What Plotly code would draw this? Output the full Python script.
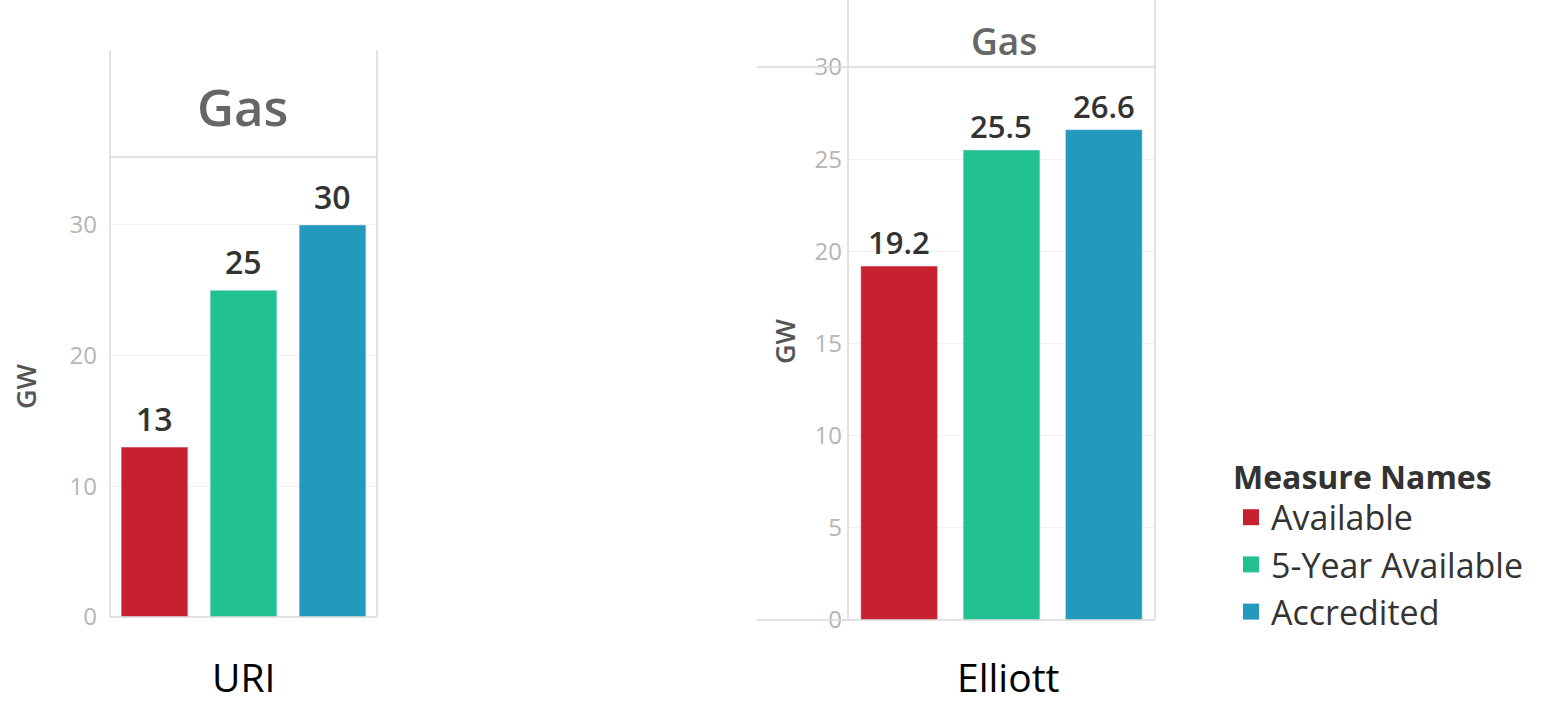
import plotly.graph_objects as go

# Data
measures = ["Available", "5-Year Available", "Accredited"]
uri_gw = [13, 25, 30]
elliott_gw = [19.2, 25.5, 26.6]
uri_labels = ["13", "25", "30"]
elliott_labels = ["19.2", "25.5", "26.6"]
uri_ticks = [0, 10, 20, 30]
elliott_ticks = [0, 5, 10, 15, 20, 25, 30]

COLORS = ["#C7202F", "#21C192", "#2399BC"]
W, H = 1554, 706
FONT = "Open Sans"


def px_x(x):
    return x / W


def px_y(y):
    return 1 - y / H


fig = go.Figure()

for i, m in enumerate(measures):
    fig.add_trace(
        go.Bar(
            x=[m], y=[uri_gw[i]], name=m, marker_color=COLORS[i],
            legendgroup=m, showlegend=False, xaxis="x", yaxis="y",
        )
    )
    fig.add_trace(
        go.Bar(
            x=[m], y=[elliott_gw[i]], name=m, marker_color=COLORS[i],
            legendgroup=m, showlegend=False, xaxis="x2", yaxis="y2",
        )
    )
    # legend entry with a bigger square swatch
    fig.add_trace(
        go.Scatter(
            x=[None], y=[None], name=m, mode="markers", legendgroup=m,
            marker=dict(symbol="square", size=18, color=COLORS[i]),
            xaxis="x2", yaxis="y2", hoverinfo="skip",
        )
    )

annotations = []
# value labels above bars
for i, m in enumerate(measures):
    annotations.append(dict(
        x=m, y=uri_gw[i], xref="x", yref="y", text=uri_labels[i],
        showarrow=False, xanchor="center", yanchor="bottom", yshift=5,
        font=dict(family=FONT, size=32, color="#333333", weight=600),
    ))
    annotations.append(dict(
        x=m, y=elliott_gw[i], xref="x2", yref="y2", text=elliott_labels[i],
        showarrow=False, xanchor="center", yanchor="bottom", yshift=1,
        font=dict(family=FONT, size=31, color="#333333", weight=600),
    ))


def label(x, y, text, size, color, weight=400, angle=0, yanchor="middle"):
    return dict(
        x=px_x(x), y=px_y(y), xref="paper", yref="paper", text=text,
        showarrow=False, xanchor="center", yanchor=yanchor, textangle=angle,
        font=dict(family=FONT, size=size, color=color, weight=weight),
    )


# header titles, axis titles, panel captions
annotations += [
    label(242, 106, "Gas", 51, "#666666", 600),
    label(1004, 41, "Gas", 37, "#666666", 600),
    label(25, 386, "GW", 27, "#555555", 600, -90),
    label(785, 341, "GW", 27, "#555555", 600, -90),
    label(243, 705, "URI", 39, "#000000", yanchor="bottom"),
    label(1008, 705, "Elliott", 39, "#000000", yanchor="bottom"),
]

line_style = dict(color="#d9d9d9", width=1.5)


def hline(x0, x1, y):
    return dict(type="line", xref="paper", yref="paper", x0=px_x(x0), x1=px_x(x1),
                y0=px_y(y), y1=px_y(y), line=line_style)


def vline(x, y0, y1):
    return dict(type="line", xref="paper", yref="paper", x0=px_x(x), x1=px_x(x),
                y0=px_y(y0), y1=px_y(y1), line=line_style)


shapes = [
    # URI panel frame
    vline(110, 50, 617), vline(377, 50, 617),
    hline(110, 377, 157), hline(110, 377, 617),
    # Elliott panel frame
    vline(848, 0, 620), vline(1155, 0, 620),
    hline(757, 1155, 67), hline(757, 1155, 620),
]

tick_font = dict(family=FONT, size=24, color="#b5b5b5")

fig.update_layout(
    width=W,
    height=H,
    margin=dict(l=0, r=0, t=0, b=0, pad=0, autoexpand=False),
    paper_bgcolor="white",
    plot_bgcolor="white",
    barmode="relative",
    bargap=0.25,
    showlegend=True,
    annotations=annotations,
    shapes=shapes,
    xaxis=dict(
        domain=[px_x(110), px_x(377)], anchor="y", categoryorder="array",
        categoryarray=measures, showticklabels=False, showgrid=False,
        zeroline=False, automargin=False,
    ),
    yaxis=dict(
        domain=[px_y(617), px_y(157)], anchor="x", range=[0, 35.2],
        tickvals=uri_ticks, ticktext=[str(t) for t in uri_ticks], tickfont=tick_font,
        showgrid=True, gridcolor="#f0f0f0", zeroline=False, ticklabelstandoff=12,
        automargin=False,
    ),
    xaxis2=dict(
        domain=[px_x(848), px_x(1155)], anchor="y2", categoryorder="array",
        categoryarray=measures, showticklabels=False, showgrid=False,
        zeroline=False, automargin=False,
    ),
    yaxis2=dict(
        domain=[px_y(620), px_y(67)], anchor="x2", range=[0, 30],
        tickvals=elliott_ticks, ticktext=[str(t) for t in elliott_ticks],
        tickfont=tick_font, showgrid=True, gridcolor="#f0f0f0", zeroline=False,
        ticklabelstandoff=5, automargin=False,
    ),
    legend=dict(
        x=px_x(1231), y=px_y(447), xanchor="left", yanchor="top",
        title=dict(text="<b>Measure Names</b>", font=dict(family=FONT, size=32, color="#333333")),
        font=dict(family=FONT, size=34, color="#333333"),
        tracegroupgap=0, traceorder="grouped", itemwidth=30,
        bgcolor="rgba(0,0,0,0)",
    ),
)

fig.write_html(
    "out.html",
    config={"displayModeBar": False},
    post_script="document.body.style.margin='0';document.body.style.overflow='hidden';",
)
